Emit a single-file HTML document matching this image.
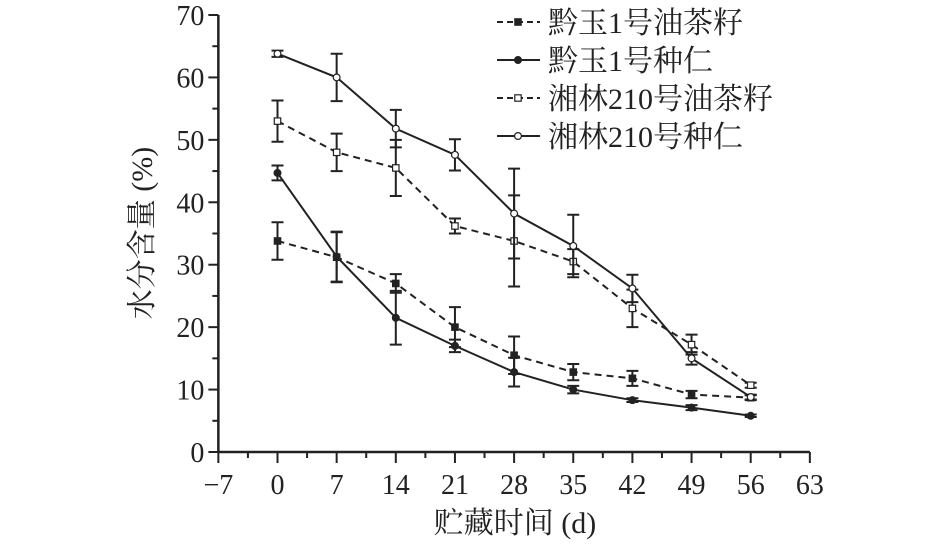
<!DOCTYPE html>
<html><head><meta charset="utf-8"><style>
body{margin:0;background:#fff}
svg text{font-family:"Liberation Serif","Noto Serif CJK SC",serif;fill:#222}
</style></head><body>
<svg width="945" height="548" id="c">
<g id="axes"></g>
<g id="series"></g>
<g id="legend"></g>
<text x="515" y="533" font-size="30" text-anchor="middle">贮藏时间 (d)</text>
<text transform="translate(152,233) rotate(-90)" font-size="30" text-anchor="middle">水分含量 (%)</text>
</svg>
<script>
const days=[0,7,14,21,28,35,42,49,56];
const xTicks=[-7,0,7,14,21,28,35,42,49,56,63];
const yTicks=[0,10,20,30,40,50,60,70];
const seriesNames=["黔玉1号油茶籽","黔玉1号种仁","湘林210号油茶籽","湘林210号种仁"];
const qySeed=[33.8,31.2,27,20,15.5,12.8,11.8,9.2,8.7];
const qySeedErr=[3,4,1.5,3.2,3,1.3,1.2,0.6,0.4];
const qyKernel=[44.7,31.3,21.5,17,12.8,10,8.3,7.1,5.8];
const qyKernelErr=[1.2,4,4.3,1,2.3,0.6,0.3,0.4,0.2];
const xlSeed=[53,48,45.5,36.2,33.8,30.5,23,17.2,10.7];
const xlSeedErr=[3.3,3,4.5,1.2,7.3,2,3,1.6,0.4];
const xlKernel=[63.8,60,51.8,47.6,38.2,33,26.2,15,8.8];
const xlKernelErr=[0.5,3.8,3,2.5,7.2,5,2.2,1,0.4];

const NS="http://www.w3.org/2000/svg";
const X=v=>277.5+8.45*v, Y=v=>452-6.243*v;
function mk(t,a,p){const e=document.createElementNS(NS,t);for(const k in a)e.setAttribute(k,a[k]);p.appendChild(e);return e;}
const ax=document.getElementById('axes');
const axisAttr={stroke:"#222","stroke-width":2.5};
let l=mk('line',{x1:X(-7),y1:Y(0),x2:X(63),y2:Y(0),...axisAttr},ax);


l=mk('line',{x1:X(-7),y1:Y(0),x2:X(-7),y2:Y(70),...axisAttr},ax);


for(let v=-7;v<=63;v+=3.5){const maj=Math.abs((v/7)-Math.round(v/7))<1e-6;
 mk('line',{x1:X(v),y1:Y(0),x2:X(v),y2:Y(0)+(maj?11:6),stroke:"#222","stroke-width":2},ax);}
xTicks.forEach(v=>{const t=mk('text',{x:X(v),y:Y(0)+42,"font-size":28,"text-anchor":"middle"},ax);t.textContent=v<0?"−"+(-v):v;
 
 });
for(let v=0;v<=70;v+=5){const maj=v%10==0;
 mk('line',{x1:X(-7),y1:Y(v),x2:X(-7)-(maj?10:6),y2:Y(v),stroke:"#222","stroke-width":2},ax);}
yTicks.forEach(v=>{const t=mk('text',{x:X(-7)-14,y:Y(v)+10,"font-size":28,"text-anchor":"end"},ax);t.textContent=v;
 
 });

const sg=document.getElementById('series');
const defs=[[qySeed,qySeedErr,true,"sq",true],[qyKernel,qyKernelErr,false,"ci",true],[xlSeed,xlSeedErr,true,"sq",false],[xlKernel,xlKernelErr,false,"ci",false]];
function marker(type,filled,x,y,p){
 const a={fill:filled?"#222":"#fff",stroke:"#222","stroke-width":1.2};
 if(type=="sq")return mk('rect',{x:x-3.2,y:y-3.2,width:6.4,height:6.4,...a},p);
 return mk('circle',{cx:x,cy:y,r:3.4,...a},p);}
defs.forEach((d,i)=>{
 const g=mk('g',{},sg);
 
 
 const pts=days.map((dd,j)=>X(dd)+","+Y(d[0][j])).join(" ");
 mk('polyline',{points:pts,fill:"none",stroke:"#222","stroke-width":2,"stroke-dasharray":d[2]?"7,5":"none"},g);
 days.forEach((dd,j)=>{const x=X(dd),y1=Y(d[0][j]+d[1][j]),y2=Y(d[0][j]-d[1][j]);
  mk('path',{d:`M${x},${y1}V${y2}M${x-6},${y1}H${x+6}M${x-6},${y2}H${x+6}`,stroke:"#222","stroke-width":2,fill:"none"},g);
  const m=marker(d[3],d[4],x,Y(d[0][j]),g);
  
  });
});
const lg=document.getElementById('legend');
defs.forEach((d,i)=>{const y=22+i*38;
 const g=mk('g',{},lg);
 
 
 mk('line',{x1:497,y1:y,x2:540,y2:y,stroke:"#222","stroke-width":2,"stroke-dasharray":d[2]?"6,4":"none"},g);
 marker(d[3],d[4],518,y,g);
 const t=mk('text',{x:548,y:y+11,"font-size":30},g);t.textContent=seriesNames[i];});
</script>
</body></html>
